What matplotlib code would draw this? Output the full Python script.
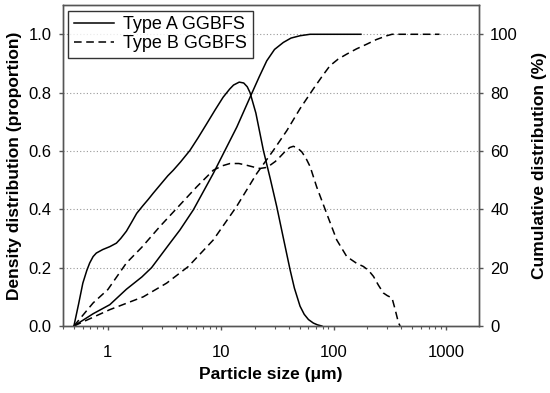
import matplotlib
matplotlib.use("Agg")
import matplotlib.pyplot as plt
from matplotlib.ticker import FixedLocator, LogLocator, NullFormatter

plt.rcParams['font.family'] = ['Liberation Sans', 'DejaVu Sans']

# density distribution (proportion), type A
dens_a_x = [0.5, 0.55, 0.60, 0.65, 0.69, 0.74, 0.79, 0.9, 1.04, 1.19, 1.3, 1.46, 1.62,
            1.80, 2.05, 2.28, 2.52, 3.0, 3.4, 3.8, 4.4, 5.34, 6.3, 7.51, 8.9, 10.5,
            12.0, 13.0, 14.6, 16.0, 17.2, 18.2, 20.5, 23.9, 27.5, 31.4, 36.0, 41.2,
            45.0, 50.5, 55.0, 60.0, 66.3, 72.0, 78.8]
dens_a_y = [0.0, 0.075, 0.147, 0.19, 0.216, 0.238, 0.25, 0.262, 0.272, 0.284, 0.3,
            0.325, 0.355, 0.386, 0.413, 0.434, 0.455, 0.49, 0.515, 0.534, 0.562, 0.602,
            0.645, 0.693, 0.74, 0.784, 0.812, 0.826, 0.836, 0.833, 0.82, 0.80, 0.73,
            0.602, 0.505, 0.409, 0.30, 0.193, 0.13, 0.068, 0.04, 0.022, 0.01, 0.004, 0.0]

# density distribution (proportion), type B
dens_b_x = [0.5, 0.74, 1.0, 1.46, 2.0, 2.89, 4.35, 6.13, 8.6, 10.3, 12.1, 14.5, 17.0,
            20.0, 22.3, 25.0, 27.4, 30.5, 33.6, 38.0, 41.0, 44.1, 48.0, 52.3, 57.0,
            62.1, 70.9, 86.9, 106.8, 131, 160, 184, 205, 226, 250, 277, 300, 330,
            350, 377, 390]
dens_b_y = [0.0, 0.079, 0.125, 0.216, 0.27, 0.341, 0.415, 0.477, 0.534, 0.549, 0.557,
            0.557, 0.551, 0.544, 0.54, 0.543, 0.551, 0.564, 0.58, 0.602, 0.612, 0.616,
            0.61, 0.597, 0.575, 0.546, 0.477, 0.386, 0.295, 0.238, 0.215, 0.204, 0.19,
            0.17, 0.14, 0.113, 0.104, 0.096, 0.06, 0.01, 0.0]

# cumulative distribution (%), type A
cum_a_x = [0.5, 0.74, 1.04, 1.46, 2.0, 2.44, 3.55, 4.35, 5.72, 8.6, 13.9, 18.2, 22.0,
           25.6, 30.0, 35.9, 42.0, 50.5, 62.0, 175]
cum_a_y = [0.0, 4.2, 7.3, 12.6, 16.8, 20.0, 28.4, 32.9, 39.8, 52.3, 68.2, 78.4, 85.5,
           90.9, 94.8, 97.2, 98.7, 99.5, 100.0, 100.0]

# cumulative distribution (%), type B
cum_b_x = [0.5, 1.04, 2.06, 3.32, 5.17, 8.6, 13.8, 20.9, 29.3, 38.6, 50.5, 66.3, 80.0,
           92.9, 110, 131, 160, 197, 240, 297, 330, 870]
cum_b_y = [0.0, 5.6, 10.0, 14.7, 20.4, 29.5, 40.9, 52.3, 60.2, 67.0, 74.5, 81.3, 85.8,
           89.2, 91.5, 93.2, 95.0, 96.6, 98.2, 99.5, 100.0, 100.0]

fig = plt.figure(figsize=(5.5, 3.93), dpi=100)
ax = fig.add_axes([0.1145, 0.1705, 0.7565, 0.8165])
ax2 = ax.twinx()

dash = (5, 3)
ax.plot(dens_a_x, dens_a_y, color='black', lw=1.1, label='Type A GGBFS')
ax.plot(dens_b_x, dens_b_y, color='black', lw=1.1, dashes=dash, label='Type B GGBFS')
ax2.plot(cum_a_x, cum_a_y, color='black', lw=1.1)
ax2.plot(cum_b_x, cum_b_y, color='black', lw=1.1, dashes=dash)

ax.set_xscale('log')
ax.set_xlim(0.4, 1950)
ax.set_ylim(0, 1.1)
ax2.set_ylim(0, 110)
ax.set_yticks([0.0, 0.2, 0.4, 0.6, 0.8, 1.0])
ax.set_yticklabels(['0.0', '0.2', '0.4', '0.6', '0.8', '1.0'])
ax2.set_yticks([0, 20, 40, 60, 80, 100])
ax.xaxis.set_major_locator(FixedLocator([1, 10, 100, 1000]))
ax.set_xticklabels(['1', '10', '100', '1000'])
ax.xaxis.set_minor_locator(LogLocator(base=10, subs=range(2, 10)))
ax.xaxis.set_minor_formatter(NullFormatter())

for g in [0.2, 0.4, 0.6, 0.8, 1.0]:
    ax.axhline(g, color='#999999', lw=0.8, ls=(0, (1, 2)), zorder=0)

for a in (ax, ax2):
    for s in a.spines.values():
        s.set_color('#555555')
        s.set_linewidth(1.0)
    a.tick_params(which='major', direction='out', length=3, width=1, color='#555555',
                  labelsize=12, pad=5)
    a.tick_params(which='minor', direction='out', length=2, width=0.8, color='#555555')
ax.tick_params(axis='x', which='major', pad=11)

ax.set_xlabel('Particle size (\u03bcm)', fontsize=12.5, fontweight='bold', labelpad=5)
ax.set_ylabel('Density distribution (proportion)', fontsize=12.5, fontweight='bold', labelpad=5)
ax2.set_ylabel('Cumulative distribution (%)', fontsize=12.5, fontweight='bold', labelpad=10,
               rotation=90)

leg = ax.legend(loc='upper left', fontsize=13, frameon=True, fancybox=False,
                borderaxespad=0.3, handlelength=2.2, handletextpad=0.55, borderpad=0.3,
                labelspacing=0.12)
leg.get_frame().set_edgecolor('black')
leg.get_frame().set_linewidth(1.0)

fig.savefig('out.png', dpi=100)
